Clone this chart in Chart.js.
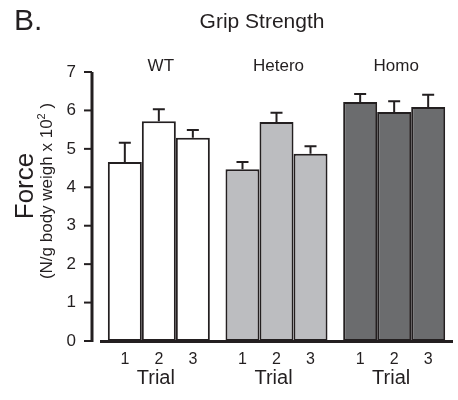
<!DOCTYPE html>
<html>
<head>
<meta charset="utf-8">
<script src="https://cdn.jsdelivr.net/npm/chart.js@4/dist/chart.umd.min.js"></script>
<style>
  html, body { margin: 0; padding: 0; background: #ffffff; }
  #wrap { width: 458px; height: 400px; position: relative; }
</style>
</head>
<body>
<div id="wrap"><canvas id="c" width="458" height="400"></canvas></div>
<script>
// ---- data ----
const groups = ['WT', 'Hetero', 'Homo'];
const trialLabels = ['1', '2', '3'];
const trial1 = [4.66, 4.47, 6.22];
const trial2 = [5.72, 5.70, 5.96];
const trial3 = [5.29, 4.87, 6.09];
const err1 = [0.50, 0.19, 0.21];
const err2 = [0.31, 0.24, 0.28];
const err3 = [0.20, 0.20, 0.32];
const yTickValues = [0, 1, 2, 3, 4, 5, 6, 7];
const groupColors = ['#ffffff', '#bcbdc0', '#6b6c6e'];

const FONT = '"Liberation Sans", Arial, Helvetica, sans-serif';
const INK = '#231f20';
const values = [trial1, trial2, trial3];
const errors = [err1, err2, err3];

const annotate = {
  id: 'annotate',
  afterDatasetsDraw(chart) {
    const ctx = chart.ctx;
    const y = chart.scales.y;
    const area = chart.chartArea;
    ctx.save();
    ctx.strokeStyle = INK;
    ctx.fillStyle = INK;

    // error bars
    ctx.lineWidth = 2;
    values.forEach((vals, i) => {
      const meta = chart.getDatasetMeta(i);
      meta.data.forEach((bar, j) => {
        const yt = y.getPixelForValue(vals[j]);
        const ye = y.getPixelForValue(vals[j] + errors[i][j]);
        ctx.beginPath();
        ctx.moveTo(bar.x, yt);
        ctx.lineTo(bar.x, ye);
        ctx.moveTo(bar.x - 6, ye);
        ctx.lineTo(bar.x + 6, ye);
        ctx.stroke();
      });
    });

    // y axis line & ticks
    const ax = area.left - 8;
    ctx.lineWidth = 3;
    ctx.beginPath();
    ctx.moveTo(ax, y.getPixelForValue(yTickValues[yTickValues.length - 1]));
    ctx.lineTo(ax, y.getPixelForValue(0) + 1);
    ctx.stroke();
    ctx.lineWidth = 2;
    yTickValues.forEach(v => {
      const py = y.getPixelForValue(v);
      ctx.beginPath();
      ctx.moveTo(ax - 8, py);
      ctx.lineTo(ax, py);
      ctx.stroke();
    });

    // x axis line
    ctx.lineWidth = 3;
    ctx.beginPath();
    ctx.moveTo(area.left, area.bottom + 0.5);
    ctx.lineTo(area.right, area.bottom + 0.5);
    ctx.stroke();

    // bottom labels
    ctx.textAlign = 'center';
    ctx.textBaseline = 'alphabetic';
    values.forEach((vals, i) => {
      const meta = chart.getDatasetMeta(i);
      meta.data.forEach((bar) => {
        ctx.font = '16px ' + FONT;
        ctx.fillText(trialLabels[i], bar.x, area.bottom + 23);
      });
    });
    const mid = chart.getDatasetMeta(1);
    mid.data.forEach((bar, j) => {
      ctx.font = '20px ' + FONT;
      ctx.fillText('Trial', bar.x - 3, area.bottom + 43);
      ctx.font = '17px ' + FONT;
      ctx.fillText(groups[j], bar.x + 2, area.top - 1);
    });

    // titles
    ctx.font = '21px ' + FONT;
    ctx.fillText('Grip Strength', 262, 28);
    ctx.textAlign = 'left';
    ctx.font = '30px ' + FONT;
    ctx.fillText('B.', 14, 30);

    // y title
    ctx.save();
    ctx.translate(33, 186);
    ctx.rotate(-Math.PI / 2);
    ctx.textAlign = 'center';
    ctx.font = '26px ' + FONT;
    ctx.fillText('Force', 0, 0);
    ctx.restore();

    ctx.save();
    ctx.translate(52, 191);
    ctx.rotate(-Math.PI / 2);
    ctx.textAlign = 'left';
    const main = '(N/g body weigh x 10';
    const sup = '2';
    const tail = ' )';
    ctx.font = '17px ' + FONT;
    const w1 = ctx.measureText(main).width;
    const w3 = ctx.measureText(tail).width;
    ctx.font = '11px ' + FONT;
    const w2 = ctx.measureText(sup).width;
    let x0 = -(w1 + w2 + w3) / 2;
    ctx.font = '17px ' + FONT;
    ctx.fillText(main, x0, 0);
    ctx.font = '11px ' + FONT;
    ctx.fillText(sup, x0 + w1, -7);
    ctx.font = '17px ' + FONT;
    ctx.fillText(tail, x0 + w1 + w2, 0);
    ctx.restore();

    ctx.restore();
  }
};

new Chart(document.getElementById('c'), {
  type: 'bar',
  data: {
    labels: groups,
    datasets: values.map((vals, i) => ({
      label: 'Trial ' + trialLabels[i],
      data: vals,
      backgroundColor: groupColors,
      borderColor: INK,
      borderWidth: 2,
      borderSkipped: false,
      categoryPercentage: 0.867,
      barPercentage: 1.0
    }))
  },
  options: {
    responsive: false,
    animation: false,
    layout: { padding: { left: 0, right: 5, top: 72, bottom: 59 } },
    plugins: { legend: { display: false }, tooltip: { enabled: false }, title: { display: false } },
    scales: {
      x: { display: false },
      y: {
        min: 0, max: 7,
        afterFit: (s) => { s.width = 100; },
        afterBuildTicks: (s) => { s.ticks = yTickValues.map(v => ({ value: v })); },
        border: { display: false },
        grid: { display: false, drawTicks: false },
        ticks: { color: INK, font: { family: FONT, size: 17 }, padding: 24 }
      }
    }
  },
  plugins: [annotate]
});
</script>
</body>
</html>
